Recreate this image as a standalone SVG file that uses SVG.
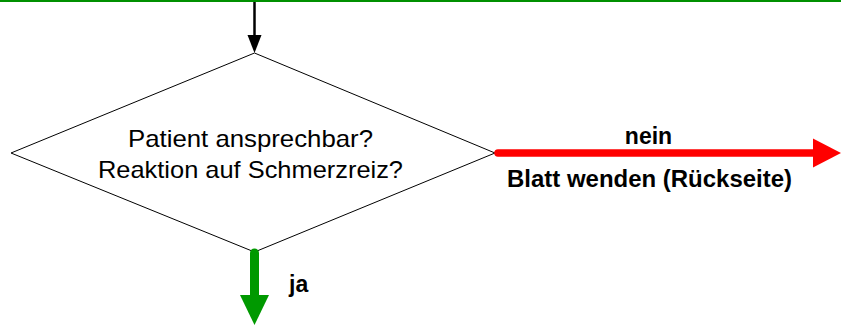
<svg xmlns="http://www.w3.org/2000/svg" width="841" height="325" viewBox="0 0 841 325">
<style>
.node{fill:#fff;stroke:#000;stroke-width:1}
.t{font-family:"Liberation Sans",Arial,sans-serif;font-size:24px;fill:#000}
.lbl{font-family:"Liberation Sans",Arial,sans-serif;font-size:23px;font-weight:bold;fill:#000}
</style>
<rect x="0" y="0" width="841" height="325" fill="#fff"/>
<line x1="0" y1="1" x2="841" y2="1" stroke="#009000" stroke-width="2"/>
<g id="decision">
<polygon class="node" points="254.5,53 495,153 254.5,252 11,153"/>
<text class="t" x="250.5" y="146.5" text-anchor="middle" textLength="245" lengthAdjust="spacingAndGlyphs">Patient ansprechbar?</text>
<text class="t" x="250.5" y="177.5" text-anchor="middle" textLength="305" lengthAdjust="spacingAndGlyphs">Reaktion auf Schmerzreiz?</text>
</g>
<g id="connectors">
<line x1="254.5" y1="2" x2="254.5" y2="37" stroke="#000" stroke-width="2.5"/>
<polygon points="247.5,35 261.5,35 254.5,53" fill="#000"/>
<line x1="498" y1="153" x2="816" y2="153" stroke="#ff0000" stroke-width="7.5" stroke-linecap="round"/>
<polygon points="813,138.5 841,153 813,167.5" fill="#ff0000"/>
<line x1="254.5" y1="253" x2="254.5" y2="298" stroke="#009900" stroke-width="9" stroke-linecap="round"/>
<polygon points="240,295 269,295 254.5,325" fill="#009900"/>
</g>
<g id="labels">
<text class="lbl" x="648.5" y="143.5" text-anchor="middle">nein</text>
<text class="lbl" x="649.5" y="187" text-anchor="middle" textLength="285" lengthAdjust="spacingAndGlyphs">Blatt wenden (Rückseite)</text>
<text class="lbl" x="289" y="291.5">ja</text>
</g>
</svg>
